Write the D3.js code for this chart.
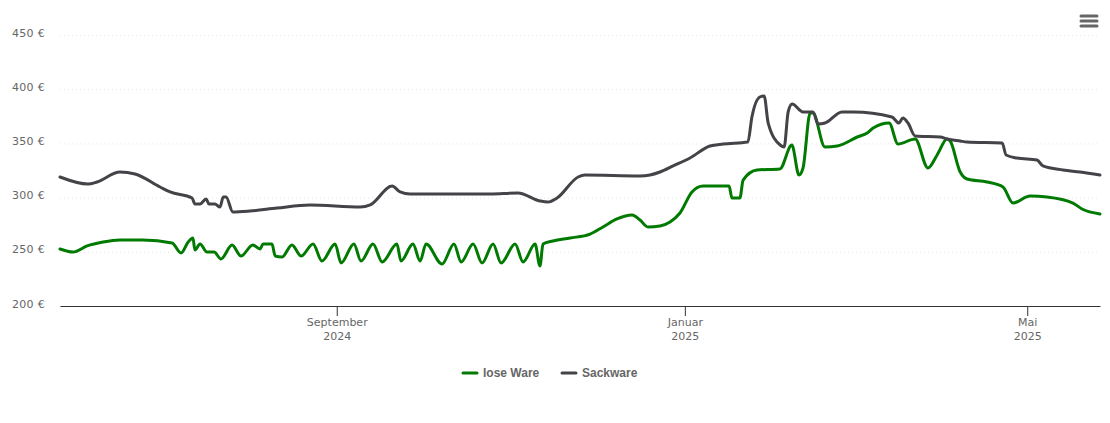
<!DOCTYPE html>
<html>
<head>
<meta charset="utf-8">
<script src="https://d3js.org/d3.v7.min.js"></script>
<style>
    body { margin: 0; background: #fff; }
    text { font-family: "DejaVu Sans", sans-serif; }
</style>
</head>
<body>
<div id="chart"></div>
<script>
// Days counted from the first day of the chart, with the price for each day
const startDate = new Date(2024, 4, 27);
const lastDay = 364.5;

const looseDays = [0, 4.6, 9.5, 15.1, 21, 29.1, 39.3, 42.4, 44.9, 46.6, 47.3, 49.1, 51.5, 54, 56.4, 60.3, 63.4, 67.6, 70.1, 71.2, 74.3, 75.4, 77.8, 81.3, 84.5, 88.7, 91.8, 96.4, 98.5, 103, 105.5, 109.7, 112.9, 118.1, 119.5, 123.7, 126.2, 128.3, 133.9, 138.1, 140.6, 144.8, 147.9, 151.8, 154.6, 159.5, 162.3, 166.5, 168.2, 169.3, 172.8, 178.8, 185.8, 190.3, 195.2, 200.5, 203.3, 206.1, 210.3, 213.8, 217.3, 221.5, 225.4, 234.5, 235.5, 238.3, 239.4, 244.3, 252.3, 256.5, 259, 260.4, 262.9, 263.9, 268.1, 272.4, 279.4, 282.9, 285, 290.6, 293.7, 299.7, 304.2, 307.4, 310.9, 312, 315.5, 317.9, 324.9, 330.5, 334, 340, 345.9, 355, 358.2, 364.5];
const loosePrices = [252.6, 249.8, 255.4, 259, 260.9, 260.9, 258.1, 248.9, 259, 262.7, 251.7, 257.2, 249.8, 249.8, 243.4, 256.3, 246.1, 256.3, 252.6, 257.2, 257.2, 246.1, 245.2, 256.3, 246.1, 257.2, 241.5, 257.2, 239.7, 257.2, 241.5, 257.2, 240.6, 257.2, 241.5, 257.2, 241.5, 257.2, 238.7, 257.2, 240.6, 257.2, 239.7, 257.2, 239.7, 257.2, 240.6, 257.2, 236.9, 257.2, 260, 262.7, 266.4, 272.9, 280.3, 283.9, 279.3, 272.9, 273.8, 277.5, 285.8, 305.2, 310.7, 310.7, 299.6, 299.6, 316.2, 325.5, 326.4, 348.5, 320.8, 327.3, 378, 378, 346.7, 347.6, 355.9, 359.6, 364.2, 368.8, 349.4, 354.1, 327.3, 339.3, 354.1, 352.2, 323.6, 317.2, 314.4, 309.8, 295, 301.5, 300.6, 295, 289.5, 284.9];

const sackDays = [0, 9.8, 13, 21, 26.3, 35.1, 38.6, 46.3, 47.3, 49.1, 51.2, 52.2, 54.3, 56.1, 57.2, 58.2, 60.6, 66.6, 76.1, 87.6, 105.2, 108.7, 116.4, 119.2, 122.7, 150.7, 160.5, 168.2, 171, 174.2, 181.6, 184, 203.3, 206.8, 210.3, 214.9, 220.8, 227.8, 232.4, 241.1, 242.5, 245.3, 246.8, 248.2, 252.4, 253.8, 255.2, 256.6, 260.4, 263.9, 265.7, 268.1, 274.1, 278, 291.6, 294, 295.4, 297.2, 299.7, 308.5, 310.9, 315.5, 317.9, 330.2, 331.6, 335.4, 342.4, 344.5, 351.5, 357.5, 364.5];
const sackPrices = [319, 312.5, 314.4, 323.6, 321.8, 309.8, 305.2, 299.6, 294.1, 294.1, 298.7, 294.1, 294.1, 291.3, 300.6, 300.6, 286.7, 287.6, 290.4, 293.2, 291.3, 293.2, 310.7, 305.2, 303.3, 303.3, 304.2, 296.9, 295.9, 299.6, 319, 320.8, 319.9, 320.8, 323.6, 329.2, 336.5, 347.6, 349.4, 351.3, 374.4, 392.8, 393.7, 368.8, 348.5, 346.7, 379, 386.3, 379, 379, 367.9, 368.8, 379, 379, 374.4, 368.8, 373.4, 368.8, 356.8, 355.9, 354.1, 352.2, 351.3, 350.4, 339.3, 336.5, 334.7, 329.2, 325.5, 323.6, 320.8];

const yTicks = [200, 250, 300, 350, 400, 450];
const xTickDates = [new Date(2024, 8, 1), new Date(2025, 0, 1), new Date(2025, 4, 1)];
const xTickMonths = ["September", "Januar", "Mai"];
const xTickYears = ["2024", "2025", "2025"];

const seriesNames = ["lose Ware", "Sackware"];
const seriesColors = ["#007a00", "#434348"];

// Turn day numbers into real dates
const toDate = d => d3.timeHour.offset(startDate, Math.round(d * 24));

const svg = d3.select("#chart").append("svg")
    .attr("width", 1110)
    .attr("height", 423)
    .style("display", "block");

// Scales
const x = d3.scaleTime()
    .domain([startDate, toDate(lastDay)])
    .range([60, 1100]);

const y = d3.scaleLinear()
    .domain([200, 450])
    .range([306, 35]);

// Y axis with dotted grid lines
const yAxis = svg.append("g")
    .attr("transform", "translate(60,0)")
    .call(d3.axisLeft(y).tickValues(yTicks).tickSize(0).tickPadding(15).tickFormat(d => d + " €"));
yAxis.select(".domain").remove();
yAxis.selectAll("text")
    .attr("fill", "#666")
    .attr("dy", "0.1em")
    .style("font-size", "11px")
    .style("letter-spacing", "0.3px");
yAxis.selectAll(".tick").filter(d => d !== 200).append("line")
    .attr("x1", 0)
    .attr("x2", 1040)
    .attr("stroke", "#e6e6e6")
    .attr("stroke-dasharray", "1,3");

// X axis with two line labels
const xAxis = svg.append("g")
    .attr("transform", "translate(0,306)")
    .call(d3.axisBottom(x).tickValues(xTickDates).tickSize(10).tickSizeOuter(0).tickFormat(""));
xAxis.select(".domain").attr("stroke", "#333");
xAxis.selectAll(".tick line").attr("stroke", "#333");
xAxis.selectAll(".tick text").remove();
xAxis.selectAll(".tick").each(function (d, i) {
    let label = d3.select(this).append("text")
        .attr("text-anchor", "middle")
        .attr("fill", "#666")
        .style("font-size", "11px");
    label.append("tspan").attr("x", 0).attr("y", 20).text(xTickMonths[i]);
    label.append("tspan").attr("x", 0).attr("y", 34).text(xTickYears[i]);
});

// Lines
const line = d3.line()
    .x(d => x(toDate(d[0])))
    .y(d => y(d[1]))
    .curve(d3.curveMonotoneX);

[d3.zip(looseDays, loosePrices), d3.zip(sackDays, sackPrices)].forEach((points, i) => {
    svg.append("path")
        .datum(points)
        .attr("fill", "none")
        .attr("stroke", seriesColors[i])
        .attr("stroke-width", 3)
        .attr("stroke-linejoin", "round")
        .attr("stroke-linecap", "round")
        .attr("d", line);
});

// Legend
const legendX = [462, 561];
seriesNames.forEach((name, i) => {
    let item = svg.append("g").attr("transform", `translate(${legendX[i]},373)`);
    item.append("line")
        .attr("x1", 1)
        .attr("x2", 15)
        .attr("stroke", seriesColors[i])
        .attr("stroke-width", 3)
        .attr("stroke-linecap", "round");
    item.append("text")
        .attr("x", 21)
        .attr("y", 4)
        .attr("fill", "#666")
        .style("font-family", "'Liberation Sans', sans-serif")
        .style("font-size", "12px")
        .style("font-weight", "bold")
        .text(name);
});

// Menu button
[16, 21, 26].forEach(lineY => {
    svg.append("line")
        .attr("x1", 1081)
        .attr("x2", 1097)
        .attr("y1", lineY)
        .attr("y2", lineY)
        .attr("stroke", "#666")
        .attr("stroke-width", 3)
        .attr("stroke-linecap", "round");
});
</script>
</body>
</html>
